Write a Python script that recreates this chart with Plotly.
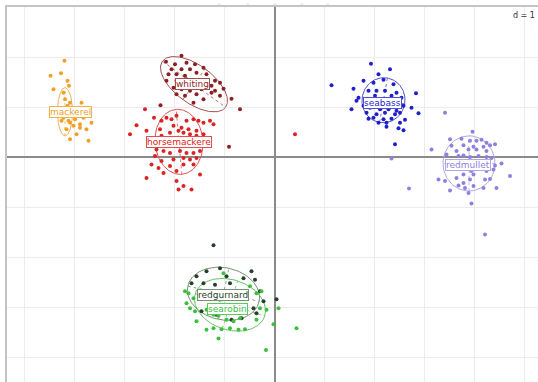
import numpy as np
import plotly.graph_objects as go

classes = ["mackerel", "whiting", "horsemackerel", "seabass", "redmullet", "redgurnard", "searobin"]
labels = ["mackerel", "whiting", "horsemackere", "seabass", "redmullet", "redgurnard", "searobin"]
point_colors = ["#f0a028", "#8e1f1f", "#dc2222", "#1f1fcc", "#8f80dc", "#26402a", "#3cbf3c"]
line_colors = ["#f0b050", "#a05050", "#e05050", "#5050d0", "#b0a8e6", "#7a8f7a", "#60c860"]

mackerel_x = [-4.20, -4.27, -4.48, -4.14, -4.11, -4.42, -4.22, -4.19, -4.09, -3.86, -4.14, -4.06, -4.16, -4.06, -4.22,
              -3.99, -3.82, -3.66, -4.12, -4.02, -3.89, -4.16, -3.76, -3.96, -4.09, -3.72, -3.89, -4.26, -4.09]
mackerel_y = [1.93, 1.68, 1.63, 1.53, 1.43, 1.36, 1.29, 1.16, 1.09, 1.09, 1.03, 0.99, 0.89, 0.83, 0.79,
              0.76, 0.79, 0.69, 0.73, 0.63, 0.59, 0.56, 0.56, 0.46, 0.36, 0.33, 0.66, 0.73, 0.69]

whiting_x = [-1.86, -2.17, -1.99, -1.76, -1.59, -1.42, -2.06, -1.86, -1.69, -1.56, -2.12, -1.96, -1.79, -1.36, -2.16,
             -1.96, -1.76, -1.19, -1.26, -1.09, -2.02, -1.86, -1.69, -1.46, -1.26, -1.19, -1.09, -1.02, -1.96, -1.79,
             -1.56, -1.42, -0.86, -0.69, -2.28, -1.62, -0.91]
whiting_y = [2.03, 1.91, 1.86, 1.89, 1.86, 1.79, 1.76, 1.76, 1.76, 1.69, 1.66, 1.66, 1.63, 1.66, 1.53,
             1.53, 1.56, 1.53, 1.43, 1.49, 1.39, 1.36, 1.33, 1.36, 1.29, 1.33, 1.23, 1.37, 1.26, 1.23,
             1.26, 1.16, 1.17, 0.96, 1.04, 1.09, 0.21]

horsemackerel_x = [-2.59, -2.41, -2.76, -2.89, -2.56, -2.26, -2.16, -2.06, -1.96, -1.76, -1.62, -1.52, -1.42, -1.29,
                   -1.22, -2.02, -1.86, -1.72, -1.56, -1.92, -2.09, -1.82, -1.69, -2.29, -2.26, -1.56, -1.42, -2.36,
                   -2.22, -2.09, -1.89, -1.76, -1.62, -1.49, -2.39, -2.26, -2.02, -1.82, -1.69, -1.56, -2.46, -2.32,
                   -2.09, -1.82, -1.62, -1.96, -2.22, -1.49, -2.56, -1.96, -1.82, -1.92, -1.66, 0.41]
horsemackerel_y = [0.96, 0.79, 0.64, 0.46, 0.53, 0.73, 0.79, 0.76, 0.83, 0.73, 0.76, 0.73, 0.69, 0.73,
                   0.66, 0.63, 0.59, 0.56, 0.53, 0.53, 0.49, 0.49, 0.46, 0.56, 0.43, 0.43, 0.46, 0.16,
                   0.13, 0.09, 0.13, 0.09, 0.09, 0.13, 0.03, -0.07, -0.04, -0.01, -0.04, -0.01, -0.14, -0.21,
                   -0.17, -0.14, -0.14, -0.27, -0.31, -0.34, -0.41, -0.47, -0.57, -0.64, -0.64, 0.46]

seabass_x = [1.93, 2.31, 2.08, 1.14, 1.58, 1.78, 1.98, 2.18, 2.38, 1.88, 2.04, 2.21, 2.44, 1.68, 1.81, 2.01, 2.34,
             2.54, 2.83, 1.64, 1.78, 1.91, 2.11, 2.28, 2.44, 2.58, 2.74, 1.54, 1.84, 2.04, 2.21, 2.41, 2.51, 2.88,
             1.98, 2.18, 2.34, 2.61, 1.88, 2.08, 2.24, 2.51, 2.24, 2.48, 2.58, 2.41]
seabass_y = [1.87, 1.76, 1.66, 1.44, 1.37, 1.53, 1.49, 1.55, 1.46, 1.33, 1.33, 1.33, 1.29, 1.19, 1.16, 1.23, 1.23,
             1.19, 1.28, 1.13, 1.03, 0.99, 0.96, 0.96, 0.93, 1.03, 0.99, 0.96, 0.89, 0.86, 0.89, 0.86, 0.89, 0.88,
             0.79, 0.76, 0.77, 0.75, 0.77, 0.69, 0.69, 0.69, 0.61, 0.58, 0.54, 0.26]

redmullet_x = [3.96, 3.74, 3.51, 3.91, 4.04, 4.14, 4.24, 3.54, 3.78, 3.98, 4.18, 4.31, 4.41, 3.64, 3.88, 4.04, 4.24,
               3.44, 3.68, 3.78, 3.91, 4.08, 4.24, 4.34, 3.14, 3.41, 4.54, 4.41, 4.71, 3.64, 3.94, 3.78, 3.98, 4.24,
               4.38, 3.28, 3.41, 3.64, 3.78, 3.91, 4.21, 4.31, 3.68, 3.81, 3.98, 4.44, 4.18, 3.51, 3.88, 3.94, 2.69,
               4.21, 2.34]
redmullet_y = [0.51, 0.37, 0.36, 0.33, 0.33, 0.35, 0.29, 0.23, 0.24, 0.21, 0.21, 0.24, 0.26, 0.13, 0.16, 0.16, 0.13,
               0.06, 0.03, 0.04, 0.01, 0.03, 0.01, -0.01, 0.16, 0.89, -0.12, -0.16, -0.37, -0.19, -0.27, -0.34, -0.34,
               -0.27, -0.24, -0.44, -0.47, -0.41, -0.51, -0.44, -0.44, -0.43, -0.56, -0.61, -0.57, -0.61, -0.61, -0.66,
               -0.71, -0.92, -0.62, -1.54, -0.02]

redgurnard_x = [-1.22, -1.09, -1.36, -0.46, -0.39, -1.56, -1.66, -1.42, -1.19, -0.89, -1.49, -0.29, -0.22, -0.42,
                0.04, -1.46, -1.16, -0.86, -0.66, -0.36, -1.29, -0.69, -0.96, -0.62]
redgurnard_y = [-1.75, -2.21, -2.27, -2.27, -2.44, -2.37, -2.51, -2.51, -2.54, -2.51, -2.74, -2.67, -2.87, -3.01,
                -2.83, -3.07, -3.14, -3.24, -3.21, -3.11, -2.81, -2.81, -2.37, -2.41]

searobin_x = [-1.79, -1.72, -1.62, -1.76, -1.69, -1.59, -1.36, -1.22, -1.12, -0.96, -0.82, -0.69, -1.56, -1.36,
              -1.22, -1.06, -0.89, -0.72, -0.59, -1.12, -0.29, -0.26, -0.36, -0.16, 0.08, -0.02, 0.44, -0.17,
              -1.02, -0.49, -0.36]
searobin_y = [-2.67, -2.71, -2.81, -2.91, -3.01, -3.07, -3.04, -3.14, -3.16, -3.24, -3.27, -3.21, -3.27, -3.44,
              -3.41, -3.43, -3.41, -3.44, -3.43, -3.61, -3.01, -2.67, -2.71, -3.04, -3.01, -3.33, -3.41, -3.84,
              -2.31, -2.57, -3.24]

# ellipse summaries: centre, semi-axes and orientation (degrees)
ell_cx = [-4.19, -1.61, -1.91, 2.18, 3.89, -1.02, -0.89]
ell_cy = [0.91, 1.46, 0.31, 1.14, -0.12, -2.72, -2.94]
ell_a = [0.48, 0.78, 0.65, 0.45, 0.55, 0.73, 0.73]
ell_b = [0.15, 0.38, 0.48, 0.43, 0.52, 0.52, 0.50]
ell_angle = [90, -36, 95, 80, 90, -12, -18]

label_x = [-4.09, -1.64, -1.91, 2.15, 3.87, -1.04, -0.94]
label_y = [0.90, 1.46, 0.30, 1.08, -0.16, -2.74, -3.02]

top_marks = [-1.11, -0.53, 0.0, 0.55, 1.07]

xs = [mackerel_x, whiting_x, horsemackerel_x, seabass_x, redmullet_x, redgurnard_x, searobin_x]
ys = [mackerel_y, whiting_y, horsemackerel_y, seabass_y, redmullet_y, redgurnard_y, searobin_y]

fig = go.Figure()
t = np.linspace(0, 2 * np.pi, 121)
for i, name in enumerate(classes):
    th = np.deg2rad(ell_angle[i])
    ex = ell_cx[i] + ell_a[i] * np.cos(t) * np.cos(th) - ell_b[i] * np.sin(t) * np.sin(th)
    ey = ell_cy[i] + ell_a[i] * np.cos(t) * np.sin(th) + ell_b[i] * np.sin(t) * np.cos(th)
    fig.add_trace(go.Scatter(x=ex, y=ey, mode="lines", line=dict(color=line_colors[i], width=1),
                             hoverinfo="skip", showlegend=False))
    ax_x = [ell_cx[i] - ell_a[i] * np.cos(th), ell_cx[i] + ell_a[i] * np.cos(th), None,
            ell_cx[i] + ell_b[i] * np.sin(th), ell_cx[i] - ell_b[i] * np.sin(th)]
    ax_y = [ell_cy[i] - ell_a[i] * np.sin(th), ell_cy[i] + ell_a[i] * np.sin(th), None,
            ell_cy[i] - ell_b[i] * np.cos(th), ell_cy[i] + ell_b[i] * np.cos(th)]
    fig.add_trace(go.Scatter(x=ax_x, y=ax_y, mode="lines",
                             line=dict(color=line_colors[i], width=0.8, dash="dot"),
                             hoverinfo="skip", showlegend=False))

for i, name in enumerate(classes):
    fig.add_trace(go.Scatter(x=xs[i], y=ys[i], mode="markers", name=name,
                             marker=dict(size=4, color=point_colors[i], line=dict(width=0)),
                             showlegend=False))

for i, name in enumerate(classes):
    fig.add_annotation(x=label_x[i], y=label_y[i], text=labels[i], showarrow=False,
                       font=dict(family="DejaVu Sans", size=9, color=point_colors[i]),
                       bgcolor="white", bordercolor=line_colors[i], borderwidth=1, borderpad=0)

fig.add_annotation(xref="paper", yref="paper", x=1.0, y=0.995, xanchor="right", yanchor="top",
                   text="d = 1", showarrow=False, xshift=-1,
                   font=dict(family="DejaVu Sans", size=8, color="#333333"))

for m in top_marks:
    fig.add_annotation(x=m, yref="paper", y=1.0, yanchor="bottom", yshift=-3, text="–", showarrow=False,
                       font=dict(family="DejaVu Sans", size=7, color="#b8b8b8"))

fig.update_xaxes(range=[-5.35, 5.27], dtick=1, tick0=0, showgrid=True, gridcolor="#ececec", gridwidth=1,
                 zeroline=True, zerolinecolor="#8a8a8a", zerolinewidth=1.5, showticklabels=False, ticks="",
                 showline=True, linecolor="#c4c4c4", linewidth=2, side="top", automargin=False)
fig.update_yaxes(range=[-4.48, 3.0], dtick=1, tick0=0, showgrid=True, gridcolor="#ececec", gridwidth=1,
                 zeroline=True, zerolinecolor="#8a8a8a", zerolinewidth=1.5, showticklabels=False, ticks="",
                 showline=True, linecolor="#c4c4c4", linewidth=2, automargin=False)
fig.update_layout(width=538, height=382, margin=dict(l=7, r=0, t=7, b=0, autoexpand=False),
                  paper_bgcolor="white", plot_bgcolor="white")
fig.write_html("out.html", config={"displayModeBar": False},
               post_script="document.body.style.margin='0';")
